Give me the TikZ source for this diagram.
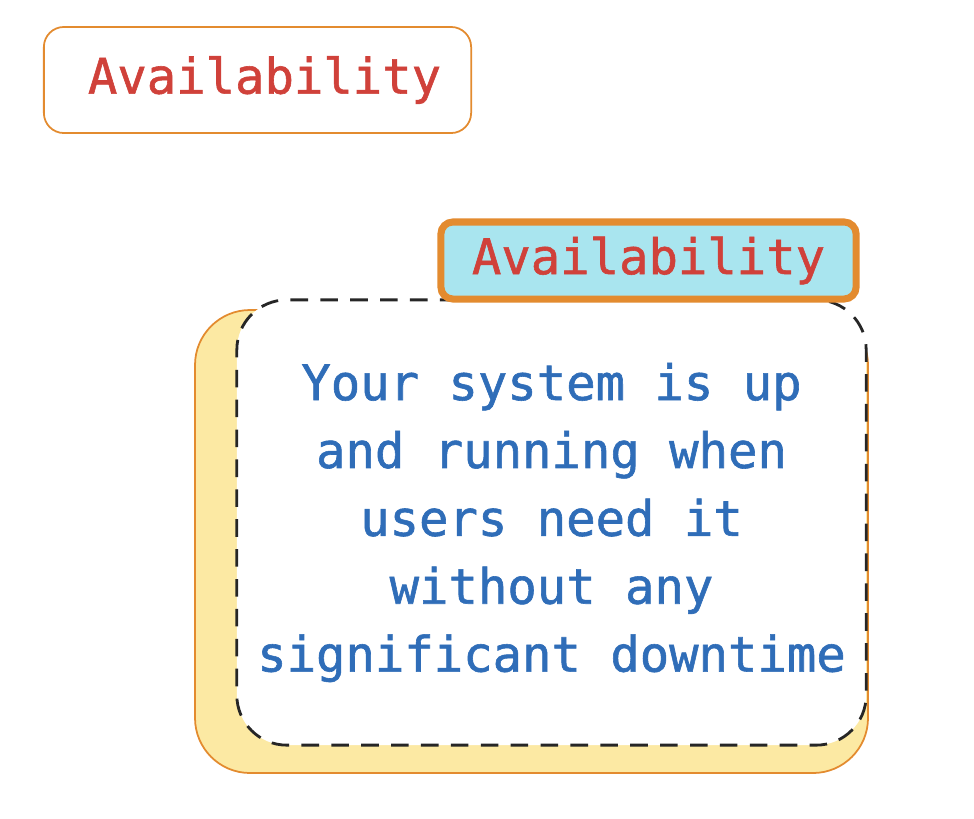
\documentclass[tikz,border=0pt]{standalone}
\usepackage{fontspec}
\newfontfamily\handfont[FakeBold=1.2]{DejaVu Sans Mono}
\usepackage{xcolor}
\usepackage{tikz}
\definecolor{brick}{HTML}{D0413A}
\definecolor{amber}{HTML}{E38B2F}
\definecolor{sky}{HTML}{A9E5EF}
\definecolor{cream}{HTML}{FCE9A3}
\definecolor{ink}{HTML}{2F6DB8}

\begin{document}
\begin{tikzpicture}[x=0.01cm,y=-0.01cm,
    hand/.style={font=\handfont\fontsize{13.9}{19.3}\selectfont},
    titlebox/.style={hand,draw=amber,line width=0.5pt,rounded corners=0.2cm,fill=white,text=brick},
    tagbox/.style={hand,draw=amber,line width=2pt,rounded corners=0.12cm,fill=sky,text=brick},
    notebox/.style={hand,draw=black!85,line width=0.8pt,dash pattern=on 5pt off 3.5pt,rounded corners=0.5cm,fill=white,text=ink,align=center}]
  \useasboundingbox (0,0) rectangle (974,818);
  \node[titlebox,minimum width=4.27cm,minimum height=1.06cm] (avail) at (257.5,80) {\hspace{0.14cm}Availability};
  \fill[cream,rounded corners=0.55cm] (195,310) rectangle (868,773);
  \draw[amber,line width=0.5pt,rounded corners=0.55cm] (195,310) rectangle (868,773);
  \node[notebox,minimum width=6.29cm,minimum height=4.45cm] (note) at (551.5,522.5)
    {Your system is up\\and running when\\users need it\\without any\\significant downtime};
  \node[tagbox,minimum width=4.15cm,minimum height=0.77cm] (tag) at (648.5,260.5) {Availability};
\end{tikzpicture}
\end{document}
